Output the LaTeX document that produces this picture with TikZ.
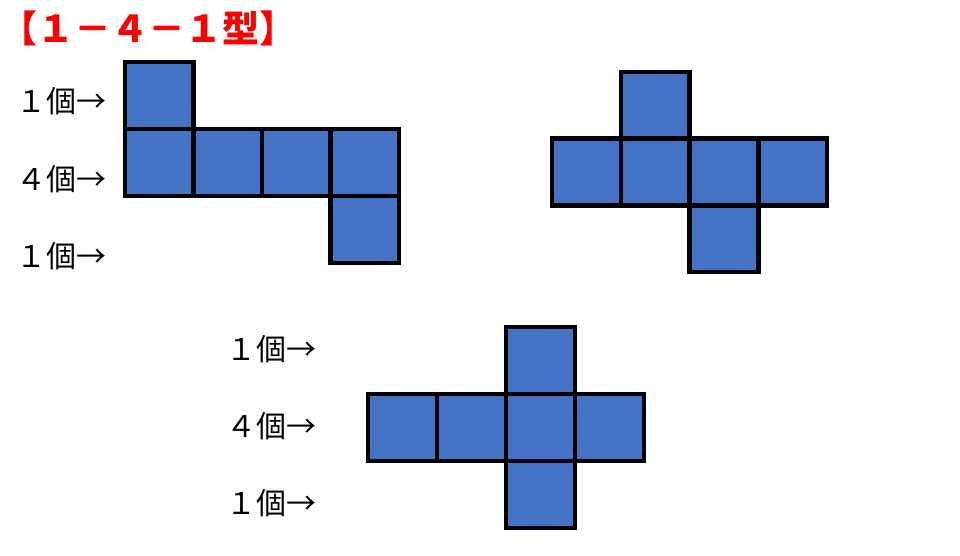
\documentclass[tikz,border=0pt]{standalone}
\usepackage{fontspec}
\newfontfamily\jpfont{Noto Sans CJK JP}
\definecolor{netblue}{HTML}{4472C4}
\begin{document}
\begin{tikzpicture}[x=1pt, y=-1pt,
	face/.style={fill=netblue, draw=black, line width=4.5pt},
	count/.style={anchor=west, inner sep=0pt, font=\jpfont\fontsize{30}{30}\selectfont}]
	\useasboundingbox (0,0) rectangle (960,555);
	% Titel
	\node[anchor=west, inner sep=0pt, text=red,
	font=\jpfont\bfseries\fontsize{37}{37}\selectfont] (title) at (0,28) {【１－４－１型】};
	% Netz 1
	\foreach \c/\r in {0/0,0/1,1/1,2/1,3/1,3/2}
		\filldraw[face] (125+\c*68.5, 62+\r*67) rectangle ++(68.5,67);
	\node[count] (upperA) at (16,101) {１個→};
	\node[count] (middleA) at (16,179) {４個→};
	\node[count] (lowerA) at (16,256) {１個→};
	% Netz 2
	\foreach \c/\r in {1/0,0/1,1/1,2/1,3/1,2/2}
		\filldraw[face] (552+\c*68.75, 72+\r*66.7) rectangle ++(68.75,66.7);
	% Netz 3
	\foreach \c/\r in {2/0,0/1,1/1,2/1,3/1,2/2}
		\filldraw[face] (368+\c*69, 327+\r*67) rectangle ++(69,67);
	\node[count] (upperC) at (226,349) {１個→};
	\node[count] (middleC) at (226,426) {４個→};
	\node[count] (lowerC) at (226,503) {１個→};
\end{tikzpicture}
\end{document}
